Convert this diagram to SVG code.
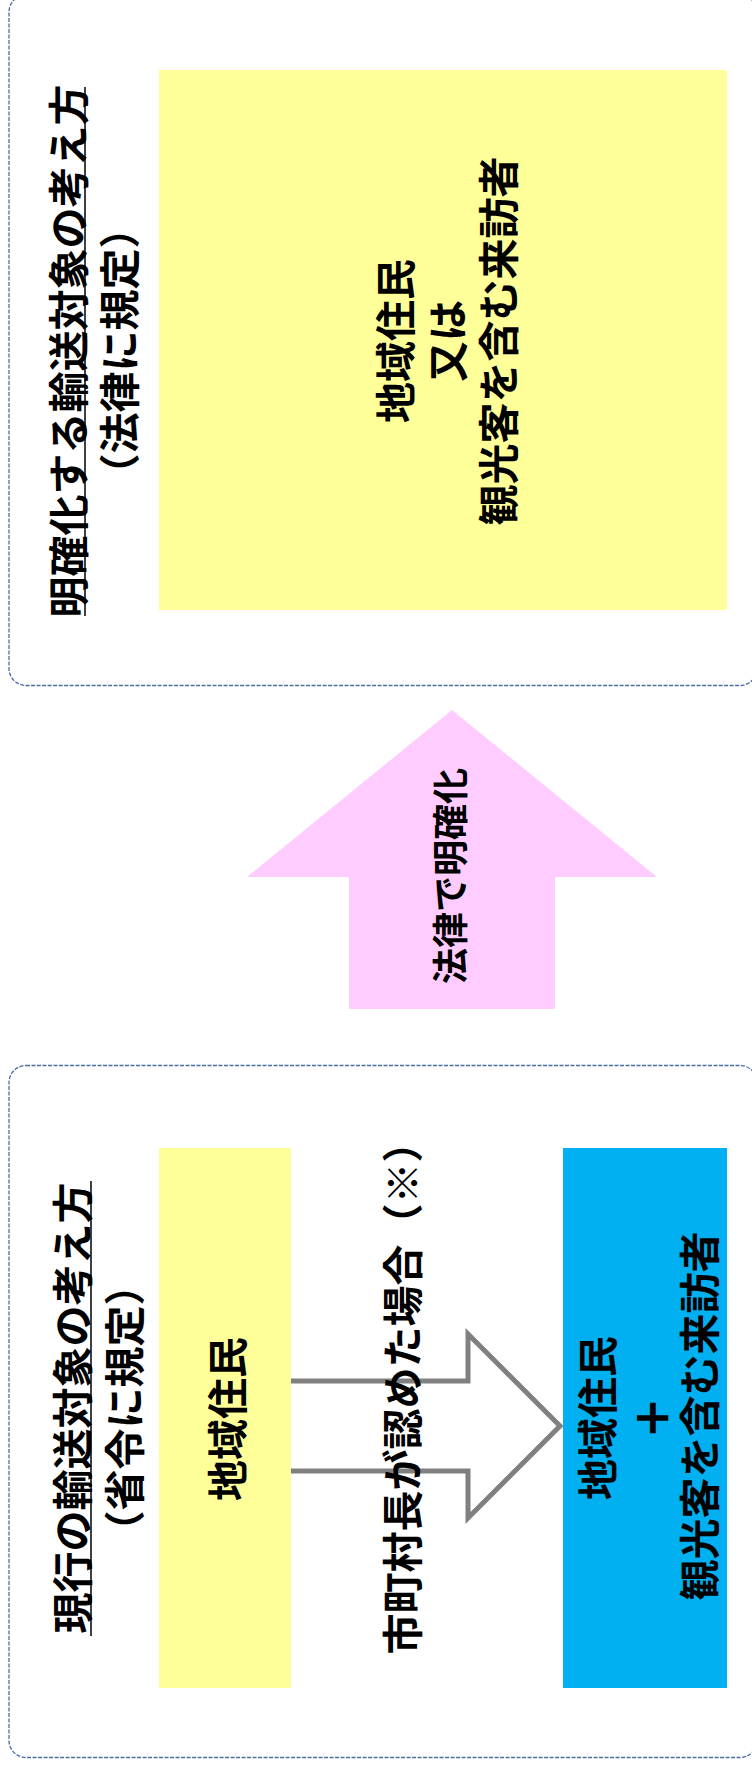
<svg xmlns="http://www.w3.org/2000/svg" width="752" height="1767" viewBox="0 0 752 1767">
<style>
.frame{fill:#fff;stroke:#4A6EA0;stroke-width:1.3;stroke-dasharray:4 1.5}
.t{font-family:"Noto Sans CJK JP","Noto Sans CJK SC",sans-serif;font-weight:bold;fill:#000;text-anchor:middle;dominant-baseline:central}
.big{font-size:41px}
.mid{font-size:36px}
.ul{stroke:#000;stroke-width:1.5}
</style>
<rect width="752" height="1767" fill="#fff"/>
<g id="box-new">
<rect class="frame" x="9" y="-5" width="748" height="690.5" rx="17" ry="17"/>
<text class="t big" transform="translate(66,351) rotate(-90)">明確化する輸送対象の考え方</text>
<line class="ul" x1="85" y1="87" x2="85" y2="616"/>
<text class="t big" transform="translate(117,351) rotate(-90)">（法律に規定）</text>
</g>
<g id="node-new-target">
<rect x="159" y="70" width="568" height="540" fill="#FFFF99"/>
<text class="t big" transform="translate(393,341) rotate(-90)">地域住民</text>
<text class="t big" transform="translate(445,341) rotate(-90)">又は</text>
<text class="t big" transform="translate(496,341) rotate(-90)">観光客を含む来訪者</text>
</g>
<g id="box-current">
<rect class="frame" x="9" y="1065.5" width="748" height="692" rx="17" ry="17"/>
<text class="t big" transform="translate(70,1408) rotate(-90)">現行の輸送対象の考え方</text>
<line class="ul" x1="91" y1="1181" x2="91" y2="1636"/>
<text class="t big" transform="translate(122,1408) rotate(-90)">（省令に規定）</text>
</g>
<g id="connectors">
<polygon points="452,710 657,877 555,877 555,1009 349,1009 349,877 247,877" fill="#FFCCFF"/>
<text class="t mid" transform="translate(448,876) rotate(-90)">法律で明確化</text>
<polygon points="280,1381 468,1381 468,1334 560,1426 468,1518 468,1471 280,1471" fill="#fff" stroke="#808080" stroke-width="5"/>
</g>
<g id="node-current-resident">
<rect x="159" y="1148" width="132" height="540" fill="#FFFF99"/>
<text class="t big" transform="translate(225,1419) rotate(-90)">地域住民</text>
</g>
<g id="label-condition">
<text class="t big" transform="translate(400,1388) rotate(-90)">市町村長が認めた場合（※）</text>
</g>
<g id="node-current-visitor">
<rect x="563" y="1148" width="164" height="540" fill="#00B0F0"/>
<text class="t big" transform="translate(595,1418) rotate(-90)">地域住民</text>
<text class="t big" transform="translate(650,1418) rotate(-90)" stroke="#000" stroke-width="1.5">＋</text>
<text class="t big" transform="translate(697,1416) rotate(-90)">観光客を含む来訪者</text>
</g>
</svg>
